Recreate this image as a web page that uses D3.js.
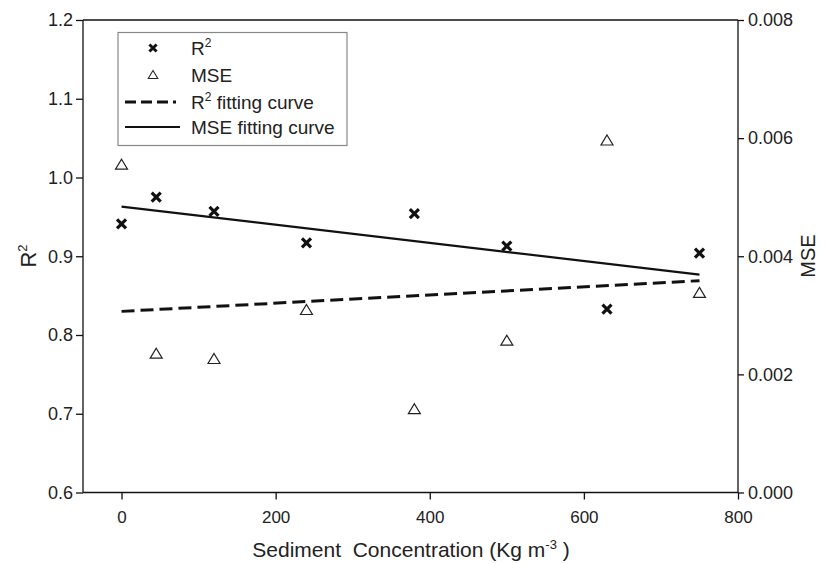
<html>
<head>
<title>R2 and MSE vs sediment concentration</title>
<script src="https://d3js.org/d3.v7.min.js"></script>
<style>
  body { margin: 0; background: #fff; }
  text { font-family: "Liberation Sans", Arial, sans-serif; fill: #222; }
</style>
</head>
<body>
<svg id="chart"></svg>
<script>
// data
var conc = [0, 45, 120, 240, 380, 500, 630, 750];
var r2 = [0.941, 0.975, 0.957, 0.917, 0.954, 0.913, 0.833, 0.904];
var mse = [0.00555, 0.00235, 0.00226, 0.00309, 0.00141, 0.00257, 0.00596, 0.00338];
// fitted lines: [concentration, value]
var r2Fit = [[0, 0.830], [750, 0.869]];
var mseFit = [[0, 0.00484], [750, 0.00369]];

var xTicks = [0, 200, 400, 600, 800];
var r2Ticks = [0.6, 0.7, 0.8, 0.9, 1.0, 1.1, 1.2];
var mseTicks = [0, 0.002, 0.004, 0.006, 0.008];

var W = 829, H = 564;
var mLeft = 83, mRight = 738, mTop = 20, mBottom = 492.5;

var svg = d3.select('#chart').attr('width', W).attr('height', H);

var x = d3.scaleLinear().domain([-50, 800]).range([mLeft, mRight]);
var yL = d3.scaleLinear().domain([0.6, 1.2]).range([mBottom, mTop]);
var yR = d3.scaleLinear().domain([0, 0.008]).range([mBottom, mTop]);

// frame top line
svg.append('line')
    .attr('x1', mLeft).attr('x2', mRight)
    .attr('y1', mTop).attr('y2', mTop)
    .attr('stroke', '#111').attr('stroke-width', 1.3);

var xAxis = svg.append('g')
    .attr('transform', 'translate(0,' + mBottom + ')')
    .call(d3.axisBottom(x).tickValues(xTicks).tickSize(7).tickPadding(11).tickSizeOuter(0));

var lAxis = svg.append('g')
    .attr('transform', 'translate(' + mLeft + ',0)')
    .call(d3.axisLeft(yL).tickValues(r2Ticks).tickFormat(d3.format('.1f')).tickSize(7).tickPadding(3).tickSizeOuter(0));

var rAxis = svg.append('g')
    .attr('transform', 'translate(' + mRight + ',0)')
    .call(d3.axisRight(yR).tickValues(mseTicks).tickFormat(d3.format('.3f')).tickSize(6).tickPadding(4).tickSizeOuter(0));

[xAxis, lAxis, rAxis].forEach(function (g) {
    g.selectAll('path, line').attr('stroke', '#111').attr('stroke-width', 1.3);
    g.selectAll('text').attr('font-size', 18).attr('fill', '#222')
        .style('font-family', '"Liberation Sans", Arial, sans-serif');
});
xAxis.selectAll('text').attr('font-size', 17);
xAxis.select('.domain').attr('d', 'M' + mLeft + ',0H' + mRight);
lAxis.select('.domain').attr('d', 'M0,' + mTop + 'V' + mBottom);
rAxis.select('.domain').attr('d', 'M0,' + mTop + 'V' + mBottom);

// axis titles
var xt = svg.append('text')
    .attr('x', 411).attr('y', 557)
    .attr('text-anchor', 'middle')
    .attr('font-size', 21);
xt.append('tspan').text('Sediment\u00a0 Concentration (Kg m');
xt.append('tspan').attr('font-size', 13).attr('dy', -8).text('-3');
xt.append('tspan').attr('dy', 8).text(' )');

var yt = svg.append('text')
    .attr('transform', 'translate(36,256) rotate(-90)')
    .attr('text-anchor', 'middle')
    .attr('font-size', 22);
yt.append('tspan').text('R');
yt.append('tspan').attr('font-size', 13).attr('dy', -9).text('2');

svg.append('text')
    .attr('transform', 'translate(815,256) rotate(-90)')
    .attr('text-anchor', 'middle')
    .attr('font-size', 20)
    .text('MSE');

// fitting lines
var lineR2 = d3.line().x(function (d) { return x(d[0]); }).y(function (d) { return yL(d[1]); });
var lineMse = d3.line().x(function (d) { return x(d[0]); }).y(function (d) { return yR(d[1]); });

svg.append('path').datum(r2Fit)
    .attr('d', lineR2)
    .attr('fill', 'none').attr('stroke', '#111')
    .attr('stroke-width', 3).attr('stroke-dasharray', '13,6');

svg.append('path').datum(mseFit)
    .attr('d', lineMse)
    .attr('fill', 'none').attr('stroke', '#111')
    .attr('stroke-width', 2.2);

// markers
var crossPath = 'M-4.5,-4.5L4.5,4.5M4.5,-4.5L-4.5,4.5';
var triPath = 'M0,-5.5L6,4.5L-6,4.5Z';

svg.selectAll('.cross')
    .data(conc)
    .enter()
    .append('path')
    .attr('class', 'cross')
    .attr('d', crossPath)
    .attr('transform', function (d, i) {
        return 'translate(' + x(d) + ',' + yL(r2[i]) + ')';
    })
    .attr('stroke', '#111').attr('stroke-width', 3.2).attr('fill', 'none');

svg.selectAll('.tri')
    .data(conc)
    .enter()
    .append('path')
    .attr('class', 'tri')
    .attr('d', triPath)
    .attr('transform', function (d, i) {
        return 'translate(' + x(d) + ',' + yR(mse[i]) + ')';
    })
    .attr('stroke', '#222').attr('stroke-width', 1.2).attr('fill', 'white');

// legend
var lg = svg.append('g');
lg.append('rect')
    .attr('x', 118).attr('y', 32.5)
    .attr('width', 229).attr('height', 113)
    .attr('fill', 'white').attr('stroke', '#888').attr('stroke-width', 1.2);

var rows = [48, 75, 102, 127];
lg.append('path').attr('d', crossPath)
    .attr('transform', 'translate(153,' + rows[0] + ') scale(0.8)')
    .attr('stroke', '#111').attr('stroke-width', 3.6).attr('fill', 'none');
lg.append('path').attr('d', triPath)
    .attr('transform', 'translate(153,' + rows[1] + ') scale(0.8)')
    .attr('stroke', '#222').attr('stroke-width', 1.3).attr('fill', 'white');
lg.append('line')
    .attr('x1', 125).attr('x2', 176).attr('y1', rows[2]).attr('y2', rows[2])
    .attr('stroke', '#111').attr('stroke-width', 3).attr('stroke-dasharray', '11,5');
lg.append('line')
    .attr('x1', 125).attr('x2', 180).attr('y1', rows[3]).attr('y2', rows[3])
    .attr('stroke', '#111').attr('stroke-width', 2.2);

var fs = 19;
var t0 = lg.append('text').attr('x', 191).attr('y', rows[0] + 7).attr('font-size', fs);
t0.append('tspan').text('R');
t0.append('tspan').attr('font-size', 12).attr('dy', -8).text('2');

lg.append('text').attr('x', 191).attr('y', rows[1] + 7).attr('font-size', fs).text('MSE');

var t2 = lg.append('text').attr('x', 191).attr('y', rows[2] + 7).attr('font-size', fs);
t2.append('tspan').text('R');
t2.append('tspan').attr('font-size', 12).attr('dy', -8).text('2');
t2.append('tspan').attr('dy', 8).text(' fitting curve');

lg.append('text').attr('x', 191).attr('y', rows[3] + 7).attr('font-size', fs).text('MSE fitting curve');
</script>
</body>
</html>
